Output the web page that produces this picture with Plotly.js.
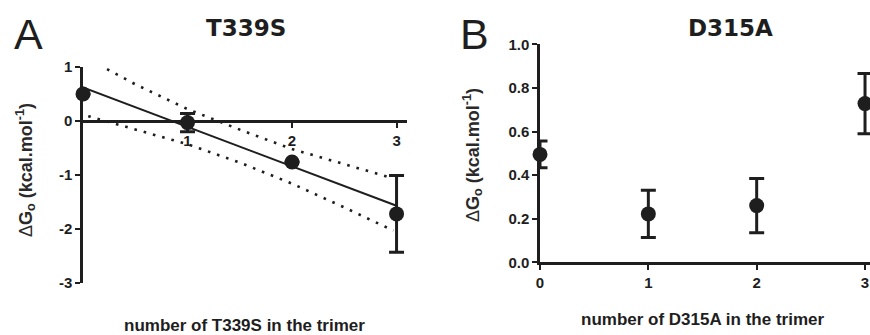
<!DOCTYPE html>
<html>
<head>
<meta charset="utf-8">
<script src="https://cdn.plot.ly/plotly-3.0.1.min.js"></script>
<style>html,body{margin:0;padding:0;background:#fff;}#chart{width:870px;height:335px;}</style>
</head>
<body>
<div id="chart"></div>
<script>
// Panel A: T339S
var countsA = [0, 1, 2, 3];
var dGA = [0.50, -0.03, -0.76, -1.72];
var errA = [0, 0.17, 0, 0.71];
var fitX = [0, 3];
var fitY = [0.62, -1.57];
var upperX = [0.23, 0.5, 1.0, 1.5, 2.0, 2.5, 2.93];
var upperY = [0.96, 0.68, 0.22, -0.16, -0.52, -0.80, -1.04];
var lowerX = [0.05, 0.5, 1.0, 1.5, 2.0, 2.5, 2.97];
var lowerY = [0.09, -0.15, -0.43, -0.77, -1.16, -1.60, -2.03];
var ticksAy = [-3, -2, -1, 0, 1];
var tickTextAy = ['<b>-3</b>', '<b>-2</b>', '<b>-1</b>', '<b>0</b>', '<b>1</b>'];
var ticksAx = [1, 2, 3];
var tickTextAx = ['<b>1</b>', '<b>2</b>', '<b>3</b>'];

// Panel B: D315A
var countsB = [0, 1, 2, 3];
var dGB = [0.495, 0.222, 0.26, 0.728];
var errB = [0.061, 0.108, 0.124, 0.138];
var ticksBy = [0, 0.2, 0.4, 0.6, 0.8, 1.0];
var tickTextBy = ['<b>0.0</b>', '<b>0.2</b>', '<b>0.4</b>', '<b>0.6</b>', '<b>0.8</b>', '<b>1.0</b>'];
var ticksBx = [0, 1, 2, 3];
var tickTextBx = ['<b>0</b>', '<b>1</b>', '<b>2</b>', '<b>3</b>'];

var ink = '#1e1e1e';
var sans = 'Liberation Sans, Arial, sans-serif';

var traces = [
  {x: upperX, y: upperY, type: 'scatter', mode: 'lines', xaxis: 'x', yaxis: 'y',
   line: {color: ink, width: 2.6, dash: '2.6px,7px'}, hoverinfo: 'skip'},
  {x: lowerX, y: lowerY, type: 'scatter', mode: 'lines', xaxis: 'x', yaxis: 'y',
   line: {color: ink, width: 2.6, dash: '2.6px,7px'}, hoverinfo: 'skip'},
  {x: fitX, y: fitY, type: 'scatter', mode: 'lines', xaxis: 'x', yaxis: 'y',
   line: {color: ink, width: 2}},
  {x: countsA, y: dGA, type: 'scatter', mode: 'markers', xaxis: 'x', yaxis: 'y',
   cliponaxis: false,
   marker: {size: 15, color: ink},
   error_y: {type: 'data', array: errA, visible: true, color: ink, thickness: 3, width: 7.5}},
  {x: countsB, y: dGB, type: 'scatter', mode: 'markers', xaxis: 'x2', yaxis: 'y2',
   cliponaxis: false,
   marker: {size: 15, color: ink},
   error_y: {type: 'data', array: errB, visible: true, color: ink, thickness: 3, width: 7.5}}
];

var W = 870, H = 335;
function px(v){ return v / W; }
function py(v){ return 1 - v / H; }

function axis(extra) {
  var a = {
    showgrid: false, zeroline: false, showline: true, linecolor: ink, linewidth: 2.5,
    ticks: 'outside', ticklen: 5, tickwidth: 2, tickcolor: ink,
    tickfont: {family: sans, size: 15, color: ink}, fixedrange: true
  };
  for (var k in extra) a[k] = extra[k];
  return a;
}

var layout = {
  width: W, height: H,
  margin: {l: 0, r: 0, t: 0, b: 0},
  paper_bgcolor: '#fff', plot_bgcolor: '#fff',
  font: {family: sans, size: 15, color: ink},
  showlegend: false,
  xaxis: axis({domain: [px(83), px(407)], range: [0, 3.1], anchor: 'free', position: py(121),
    tickmode: 'array', tickvals: ticksAx, ticktext: tickTextAx}),
  yaxis: axis({domain: [py(283), py(67)], range: [-3, 1], anchor: 'x',
    tickmode: 'array', tickvals: ticksAy, ticktext: tickTextAy}),
  xaxis2: axis({domain: [px(540), 1], range: [0, 3.046], anchor: 'y2',
    tickmode: 'array', tickvals: ticksBx, ticktext: tickTextBx}),
  yaxis2: axis({domain: [py(262.3), py(44.3)], range: [0, 1], anchor: 'x2',
    tickmode: 'array', tickvals: ticksBy, ticktext: tickTextBy}),
  annotations: [
    {text: 'A', xref: 'paper', yref: 'paper', x: px(28), y: py(34), showarrow: false,
     xanchor: 'center', yanchor: 'middle', font: {family: sans, size: 43, color: ink}},
    {text: 'B', xref: 'paper', yref: 'paper', x: px(474), y: py(34), showarrow: false,
     xanchor: 'center', yanchor: 'middle', font: {family: sans, size: 43, color: ink}},
    {text: '<b>T339S</b>', xref: 'paper', yref: 'paper', x: px(246), y: py(28), showarrow: false,
     xanchor: 'center', yanchor: 'middle', font: {family: 'DejaVu Sans, sans-serif', size: 23, color: ink}},
    {text: '<b>D315A</b>', xref: 'paper', yref: 'paper', x: px(730), y: py(28), showarrow: false,
     xanchor: 'center', yanchor: 'middle', font: {family: 'DejaVu Sans, sans-serif', size: 23, color: ink}},
    {text: '<b>number of T339S in the trimer</b>', xref: 'paper', yref: 'paper', x: px(244), y: py(325), showarrow: false,
     xanchor: 'center', yanchor: 'middle', font: {family: sans, size: 17, color: ink}},
    {text: '<b>number of D315A in the trimer</b>', xref: 'paper', yref: 'paper', x: px(702), y: py(319), showarrow: false,
     xanchor: 'center', yanchor: 'middle', font: {family: sans, size: 17, color: ink}},
    {text: 'Δ<b>G<sub>o</sub> (kcal.mol<sup>-1</sup>)</b>', xref: 'paper', yref: 'paper',
     x: px(25), y: py(170), showarrow: false, textangle: -90,
     xanchor: 'center', yanchor: 'middle', font: {family: sans, size: 18, color: '#2a2a2a'}},
    {text: 'Δ<b>G<sub>o</sub> (kcal.mol<sup>-1</sup>)</b>', xref: 'paper', yref: 'paper',
     x: px(472), y: py(155), showarrow: false, textangle: -90,
     xanchor: 'center', yanchor: 'middle', font: {family: sans, size: 18, color: '#2a2a2a'}}
  ]
};

Plotly.newPlot('chart', traces, layout, {displayModeBar: false});
</script>
</body>
</html>
